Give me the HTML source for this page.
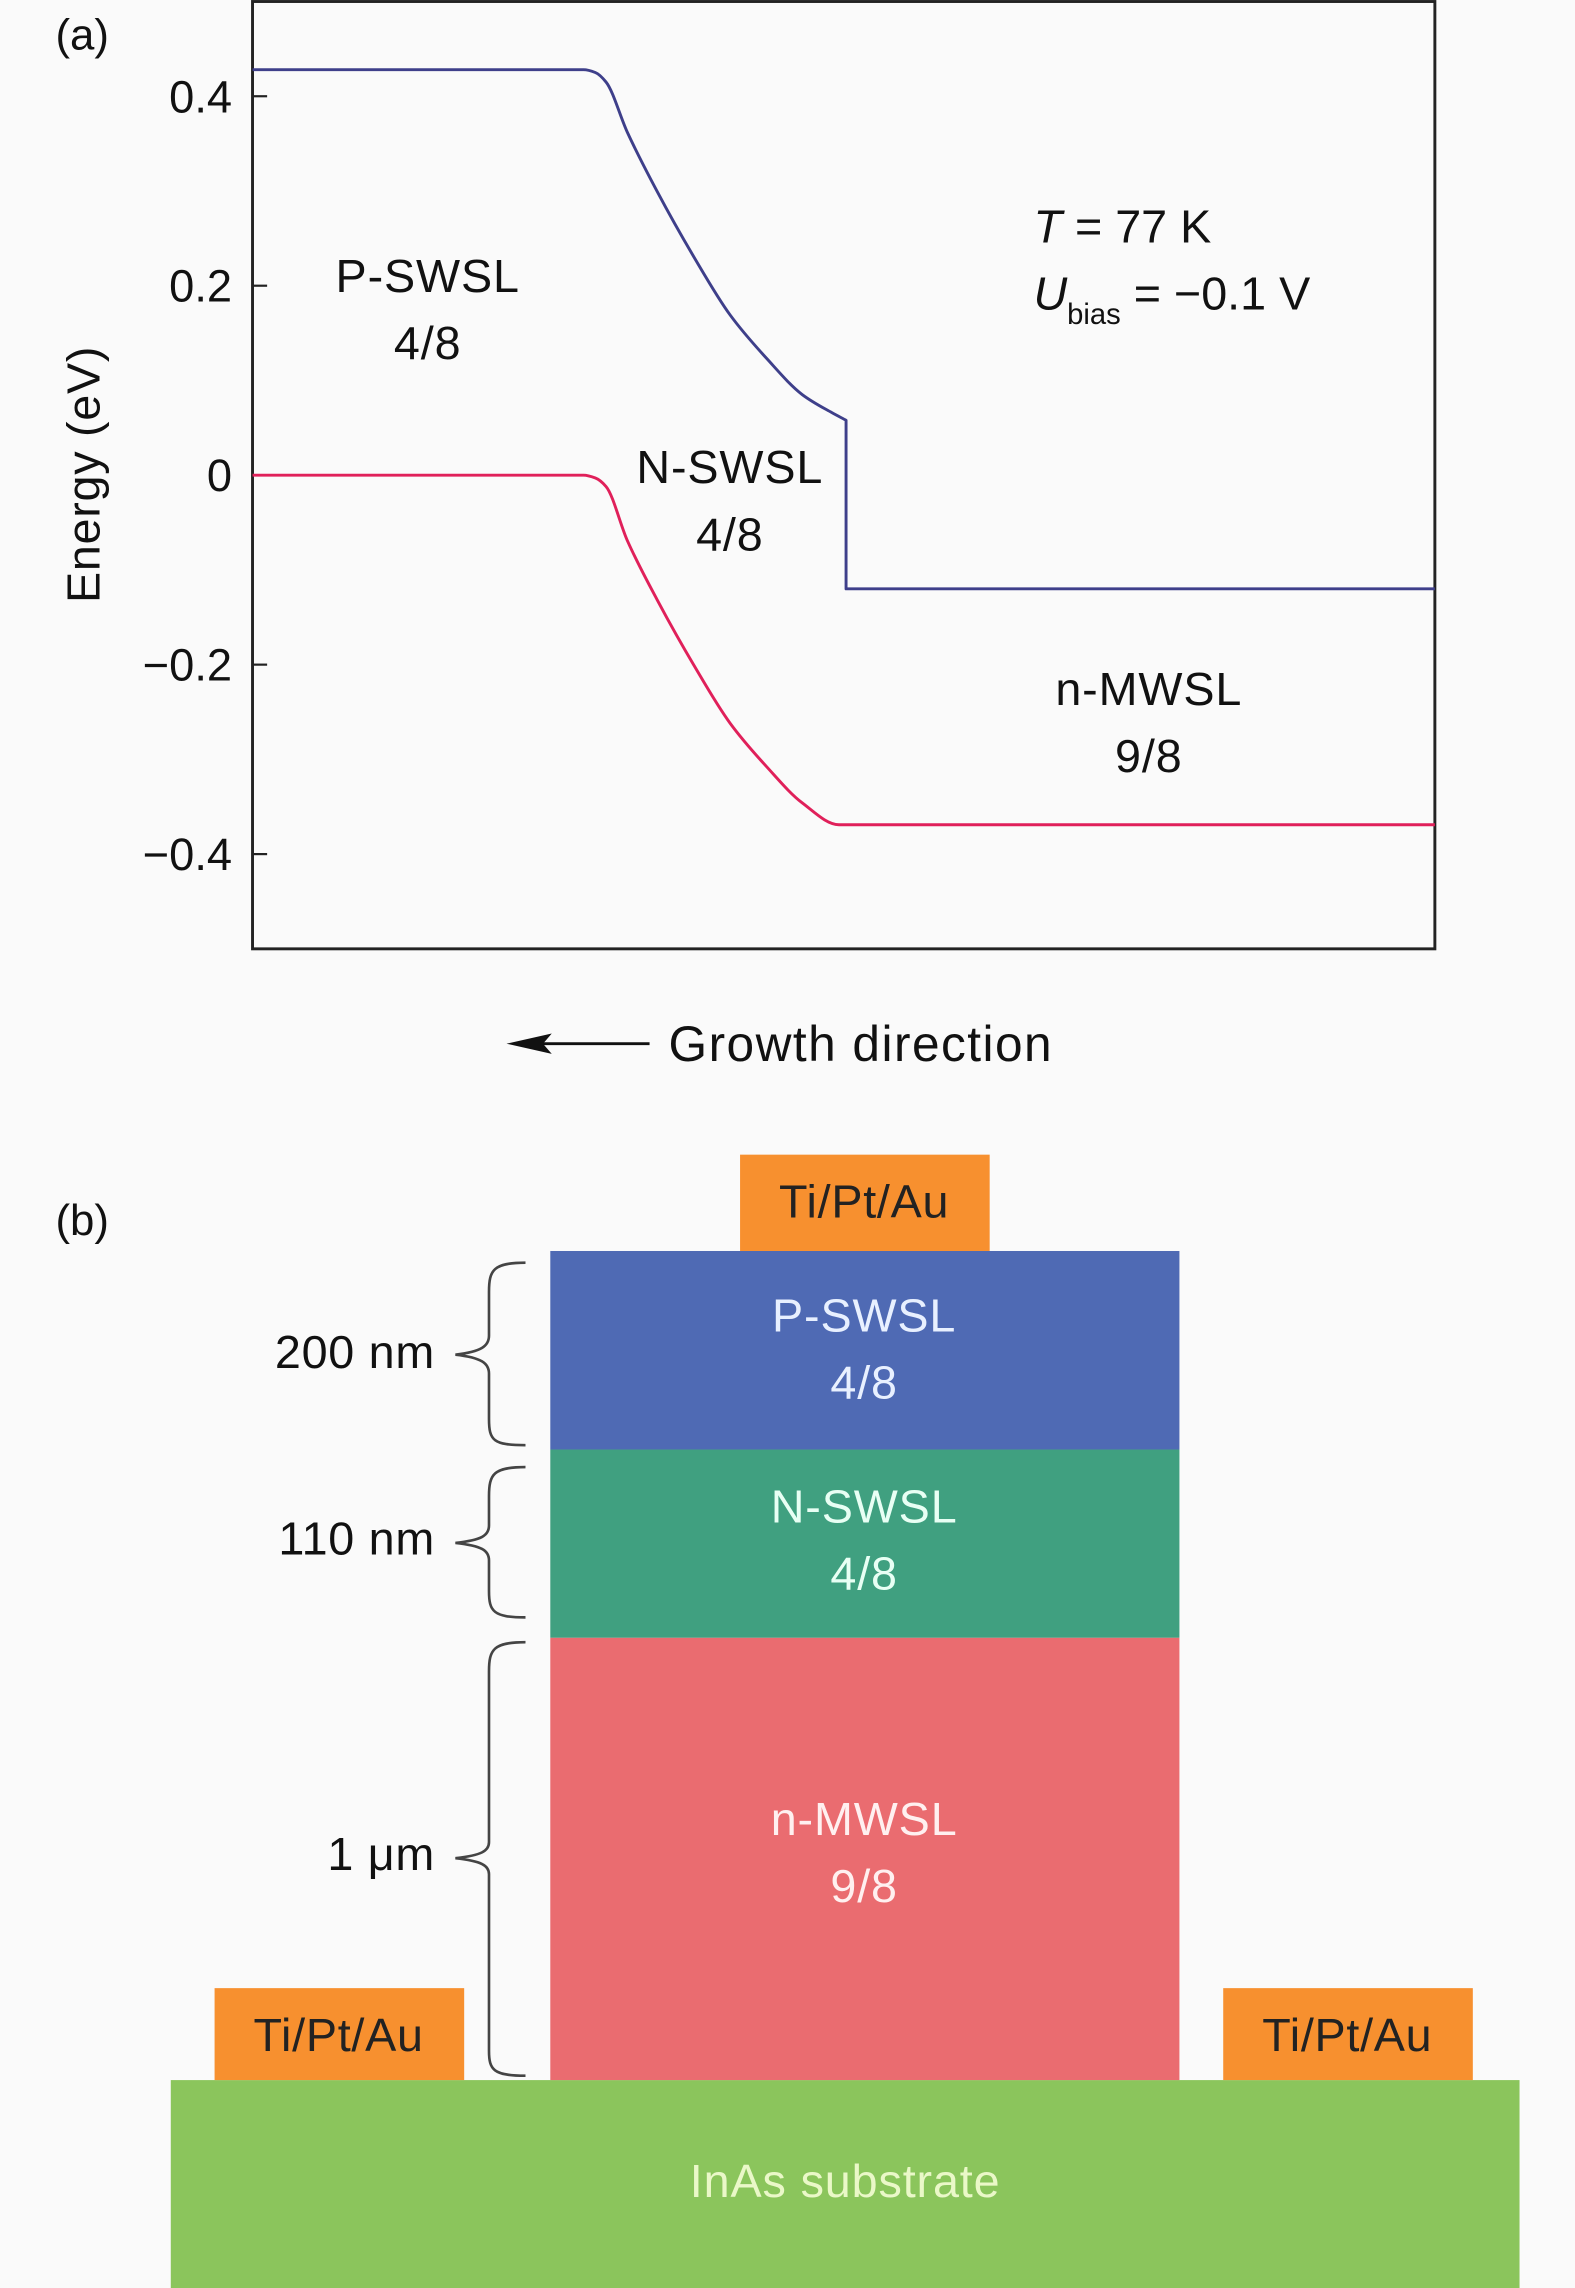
<!DOCTYPE html>
<html><head><meta charset="utf-8"><style>
html,body{margin:0;padding:0;background:#fafafa;}
svg{display:block;font-family:"Liberation Sans","DejaVu Sans",sans-serif;}
</style></head><body>
<svg id="fig" width="1575" height="2288" viewBox="0 0 1079 1567.4" xmlns="http://www.w3.org/2000/svg">
<rect x="0" y="0" width="1079" height="1567.4" fill="#fafafa"/>
<text x="38" y="34" font-size="30" fill="#111">(a)</text>
<g id="chart"></g>
<text x="0" y="0" transform="translate(68,325) rotate(-90)" text-anchor="middle" font-size="32" fill="#111" letter-spacing="0.5">Energy (eV)</text>
<g font-size="32" fill="#111" text-anchor="middle" letter-spacing="0.6">
<text x="293" y="200">P-SWSL</text>
<text x="293" y="246">4/8</text>
<text x="500" y="331">N-SWSL</text>
<text x="500" y="377">4/8</text>
<text x="787" y="483">n-MWSL</text>
<text x="787" y="529">9/8</text>
</g>
<text x="708" y="166" font-size="32" fill="#111"><tspan font-style="italic">T</tspan> = 77 K</text>
<text x="708" y="212" font-size="32" fill="#111"><tspan font-style="italic">U</tspan><tspan font-size="20" dy="10">bias</tspan><tspan dy="-10"> = −0.1 V</tspan></text>
<g>
<line x1="445" y1="715" x2="365" y2="715" stroke="#111" stroke-width="2"/>
<polygon points="347,715 378,708 372,715 378,722" fill="#111"/>
</g>
<text x="458" y="727" font-size="34" letter-spacing="1" fill="#111">Growth direction</text>

<text x="38" y="846" font-size="30" fill="#111">(b)</text>
<rect x="117" y="1425" width="924" height="143" fill="#8bc55c"/>
<text x="579" y="1505" text-anchor="middle" font-size="32" letter-spacing="0.6" fill="#eaf8c8">InAs substrate</text>
<rect x="377" y="857" width="431" height="136" fill="#4f6ab4"/>
<rect x="377" y="993" width="431" height="129" fill="#40a080"/>
<rect x="377" y="1122" width="431" height="303" fill="#ea6c70"/>
<g font-size="32" text-anchor="middle" letter-spacing="0.6">
<text x="592" y="912" fill="#e8f0ff">P-SWSL</text>
<text x="592" y="958" fill="#e8f0ff">4/8</text>
<text x="592" y="1043" fill="#e8fff4">N-SWSL</text>
<text x="592" y="1089" fill="#e8fff4">4/8</text>
<text x="592" y="1257" fill="#fff0f0">n-MWSL</text>
<text x="592" y="1303" fill="#fff0f0">9/8</text>
</g>
<rect x="507" y="791" width="171" height="66" fill="#f7902f"/>
<text x="592" y="834" text-anchor="middle" font-size="32" letter-spacing="0.5" fill="#222">Ti/Pt/Au</text>
<rect x="147" y="1362" width="171" height="63" fill="#f7902f"/>
<text x="232" y="1405" text-anchor="middle" font-size="32" letter-spacing="0.5" fill="#222">Ti/Pt/Au</text>
<rect x="838" y="1362" width="171" height="63" fill="#f7902f"/>
<text x="923" y="1405" text-anchor="middle" font-size="32" letter-spacing="0.5" fill="#222">Ti/Pt/Au</text>
<g fill="none" stroke="#444" stroke-width="1.8">
<path d="M360,865 C338,865 335,870 335,885 L335,915 C335,922 330,926 312,928 C330,930 335,934 335,941 L335,972 C335,987 338,990 360,990"/>
<path d="M360,1005 C338,1005 335,1010 335,1025 L335,1045 C335,1052 330,1055 312,1057 C330,1059 335,1062 335,1069 L335,1090 C335,1104 338,1108 360,1108"/>
<path d="M360,1125 C338,1125 335,1130 335,1145 L335,1262 C335,1268 330,1271 312,1273 C330,1275 335,1278 335,1284 L335,1405 C335,1418 338,1422 360,1422"/>
</g>
<text x="298" y="937" text-anchor="end" font-size="32" letter-spacing="0.5" fill="#111">200 nm</text>
<text x="298" y="1065" text-anchor="end" font-size="32" letter-spacing="0.5" fill="#111">110 nm</text>
<text x="298" y="1281" text-anchor="end" font-size="32" letter-spacing="0.5" fill="#111">1 μm</text>
</svg>
<script>
const yTicks = [0.4, 0.2, 0, -0.2, -0.4];
const yTickLabels = ["0.4", "0.2", "0", "\u22120.2", "\u22120.4"];
const upperX = [0, 0.280, 0.290, 0.299, 0.317, 0.342, 0.373, 0.404, 0.435, 0.465, 0.490, 0.502, 0.502, 1];
const upperE = [0.428, 0.428, 0.425, 0.415, 0.362, 0.300, 0.231, 0.169, 0.123, 0.085, 0.066, 0.058, -0.120, -0.120];
const lowerX = [0, 0.280, 0.290, 0.299, 0.317, 0.342, 0.373, 0.404, 0.435, 0.465, 0.496, 1];
const lowerE = [0, 0, -0.003, -0.012, -0.069, -0.131, -0.200, -0.262, -0.308, -0.346, -0.369, -0.369];

const NS = "http://www.w3.org/2000/svg";
const g = document.getElementById('chart');
const L = 173, R = 983, T = 1, B = 650;
const yMin = -0.5, yMax = 0.5;
function sx(v){ return L + v * (R - L); }
function sy(v){ return T + (yMax - v) / (yMax - yMin) * (B - T); }
function mk(tag, attrs){ const e = document.createElementNS(NS, tag); for (const k in attrs) e.setAttribute(k, attrs[k]); g.appendChild(e); return e; }

const frame = mk('rect', {x: L, y: T, width: R - L, height: B - T, fill: 'none', stroke: '#222', 'stroke-width': 2});



yTicks.forEach((v, i) => {
  const t = mk('line', {x1: L, x2: L + 10, y1: sy(v), y2: sy(v), stroke: '#222', 'stroke-width': 1.5});
  
  
  const lb = mk('text', {x: L - 14, y: sy(v) + 11, 'text-anchor': 'end', 'font-size': 31, fill: '#111'});
  lb.textContent = yTickLabels[i];
  
  
});

// monotone cubic (Fritsch-Carlson) per continuous segment
function monoSeg(s){
  const n = s.length;
  if (n < 2) return '';
  const dx = [], m = [];
  for (let i = 0; i < n - 1; i++){ dx.push(s[i+1][0] - s[i][0]); m.push((s[i+1][1] - s[i][1]) / dx[i]); }
  const t = new Array(n);
  t[0] = m[0]; t[n-1] = m[n-2];
  for (let i = 1; i < n - 1; i++){
    if (m[i-1] * m[i] <= 0) t[i] = 0;
    else {
      const w1 = 2*dx[i] + dx[i-1], w2 = dx[i] + 2*dx[i-1];
      t[i] = (w1 + w2) / (w1 / m[i-1] + w2 / m[i]);
    }
  }
  let d = '';
  for (let i = 0; i < n - 1; i++){
    const h = dx[i] / 3;
    d += ' C' + (s[i][0] + h) + ',' + (s[i][1] + t[i]*h) + ' ' + (s[i+1][0] - h) + ',' + (s[i+1][1] - t[i+1]*h) + ' ' + s[i+1][0] + ',' + s[i+1][1];
  }
  return d;
}
function curve(xs, es){
  const pts = xs.map((x, i) => [sx(x), sy(es[i])]);
  const segs = []; let cur = [pts[0]];
  for (let i = 1; i < pts.length; i++){
    if (xs[i] === xs[i-1]) { segs.push(cur); cur = [pts[i]]; }
    else cur.push(pts[i]);
  }
  segs.push(cur);
  let d = 'M' + pts[0][0] + ',' + pts[0][1];
  segs.forEach((s, si) => {
    if (si > 0) d += ' L' + s[0][0] + ',' + s[0][1];
    d += monoSeg(s);
  });
  return d;
}
const up = mk('path', {d: curve(upperX, upperE), fill: 'none', stroke: '#3e3f8a', 'stroke-width': 2, 'stroke-linejoin': 'round'});


const lo = mk('path', {d: curve(lowerX, lowerE), fill: 'none', stroke: '#e0205a', 'stroke-width': 2, 'stroke-linejoin': 'round'});


</script>
</body></html>
